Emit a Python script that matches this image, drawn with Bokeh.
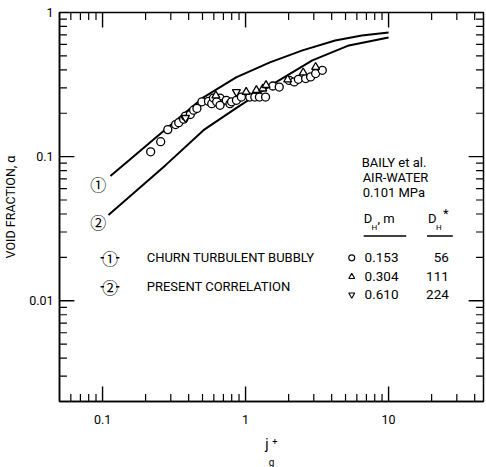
import math
from bokeh.plotting import figure
from bokeh.models import Range1d, Label, CustomJSTickFormatter, Title
from bokeh.embed import file_html
from bokeh.resources import INLINE

# ---------------- data ----------------
churn_x = [0.1135, 0.154, 0.256, 0.508, 0.859, 1.48, 2.50, 4.23, 6.50, 10.0]
churn_y = [0.0733, 0.0946, 0.1455, 0.258, 0.355, 0.451, 0.546, 0.640, 0.693, 0.727]
present_x = [0.110, 0.276, 0.508, 0.859, 1.55, 2.93, 5.28, 10.0]
present_y = [0.0394, 0.0873, 0.1526, 0.217, 0.318, 0.465, 0.591, 0.671]

d153_x = [0.217, 0.255, 0.286, 0.324, 0.341, 0.369, 0.379, 0.411, 0.433, 0.457,
          0.495, 0.550, 0.580, 0.596, 0.663, 0.663, 0.628, 0.663, 0.733, 0.778,
          0.798, 0.863, 0.935, 1.07, 1.16, 1.25, 1.38, 1.55, 1.72, 2.02,
          2.19, 2.34, 2.63, 2.85, 3.09, 3.44]
d153_y = [0.108, 0.127, 0.154, 0.167, 0.172, 0.182, 0.191, 0.196, 0.210, 0.216,
          0.240, 0.242, 0.233, 0.255, 0.255, 0.233, 0.240, 0.227, 0.246, 0.233,
          0.240, 0.246, 0.259, 0.259, 0.259, 0.259, 0.259, 0.309, 0.304, 0.338,
          0.330, 0.344, 0.348, 0.357, 0.377, 0.397]
d304_x = [0.62, 1.01, 1.19, 1.32, 1.39, 1.97, 2.53, 3.09]
d304_y = [0.265, 0.281, 0.289, 0.296, 0.313, 0.342, 0.383, 0.418]
d610_x = [0.38, 0.863]
d610_y = [0.186, 0.281]

legend_dh = ["0.153", "0.304", "0.610"]
legend_dstar = ["56", "111", "224"]
XMIN, XMAX = 0.05, 46.1
YMIN, YMAX = 0.002, 1.0

FONT = "Roboto"
CIRC = "Noto Sans CJK JP"

W, H = 486, 467
BL, BR, BT, BB = 55, 3, 12, 65

p = figure(width=W, height=H, x_axis_type="log", y_axis_type="log",
           x_range=Range1d(XMIN, XMAX), y_range=Range1d(YMIN, YMAX),
           output_backend="svg", toolbar_location=None,
           min_border_left=BL, min_border_right=BR, min_border_top=BT, min_border_bottom=BB)
p.grid.visible = False
p.outline_line_color = "black"
p.outline_line_width = 1.5
p.background_fill_color = "white"
p.border_fill_color = "white"

fmt = CustomJSTickFormatter(code="return String(Number(tick.toPrecision(3)));")

for ax in [p.below[0], p.left[0]]:
    ax.major_tick_in = 0
    ax.major_tick_out = 0
    ax.minor_tick_in = 0
    ax.minor_tick_out = 0
    ax.axis_line_width = 1.5
    ax.axis_line_color = "black"
    ax.major_label_text_font = FONT
    ax.major_label_text_font_size = "12.5px"
    ax.major_label_text_color = "black"
    ax.formatter = fmt

xb = p.below[0]
yl = p.left[0]
xb.major_label_standoff = 13
yl.major_label_standoff = 6
yl.axis_label = "VOID FRACTION, α"
yl.axis_label_text_font = FONT
yl.axis_label_text_font_size = "12.5px"
yl.axis_label_text_font_style = "normal"
yl.axis_label_text_color = "black"
yl.axis_label_standoff = 8

# x axis label j_g^+ : "j⁺" as the axis label, subscript "g" as a title row below it
xb.axis_label = "j ⁺"
xb.axis_label_text_font = FONT
xb.axis_label_text_font_size = "14px"
xb.axis_label_text_font_style = "normal"
xb.axis_label_text_color = "black"
xb.axis_label_standoff = 9
p.add_layout(Title(text="g", align="center", offset=-3, standoff=0,
                   text_font=FONT, text_font_size="10px", text_font_style="normal",
                   text_color="black"), "below")

# ---- inward tick marks on all four sides ----
px_per_dec_x = (W - BL - BR) / math.log10(XMAX / XMIN)
px_per_dec_y = (H - BT - BB) / math.log10(YMAX / YMIN)


def ticks(lo, hi):
    out = []
    for k in range(-4, 3):
        for m in range(1, 10):
            v = m * 10 ** k
            if lo * 1.0001 < v < hi * 0.9999:
                out.append((v, m == 1))
    return out


for v, major in ticks(XMIN, XMAX):
    L = 15 if major else 7.5
    f = 10 ** (L / px_per_dec_y)
    p.segment(x0=[v, v], y0=[YMIN, YMAX], x1=[v, v], y1=[YMIN * f, YMAX / f],
              line_color="black", line_width=1.4 if major else 1.2)
for v, major in ticks(YMIN, YMAX):
    L = 15 if major else 7.5
    f = 10 ** (L / px_per_dec_x)
    p.segment(x0=[XMIN, XMAX], y0=[v, v], x1=[XMIN * f, XMAX / f], y1=[v, v],
              line_color="black", line_width=1.4 if major else 1.2)

# curves
p.line(churn_x, churn_y, line_color="black", line_width=2)
p.line(present_x, present_y, line_color="black", line_width=2)

# data
p.scatter(d153_x, d153_y, marker="circle", size=8, fill_color="white",
          line_color="black", line_width=1.3)
p.scatter(d304_x, d304_y, marker="triangle", size=8, fill_color="white",
          line_color="black", line_width=1.3)
p.scatter(d610_x, d610_y, marker="inverted_triangle", size=8, fill_color="white",
          line_color="black", line_width=1.3)


def X(px):
    return XMIN * 10 ** ((px - BL) / px_per_dec_x)


def Y(py):
    return YMAX / 10 ** ((py - BT) / px_per_dec_y)


def lab(text, px, py, size="13px", font=FONT, align="left", baseline="middle"):
    p.add_layout(Label(x=X(px), y=Y(py), text=text, text_font=font,
                       text_font_size=size, text_align=align,
                       text_baseline=baseline, text_color="black"))


lab("①", 94, 184, size="16px", font=CIRC, align="center")
lab("②", 94, 222, size="16px", font=CIRC, align="center")

for row_y, sym, txt in [(258, "①", "CHURN TURBULENT BUBBLY"), (287, "②", "PRESENT CORRELATION")]:
    p.segment(x0=[X(96.5), X(112)], y0=[Y(row_y)] * 2, x1=[X(100), X(115.5)], y1=[Y(row_y)] * 2,
              line_color="black", line_width=1.5)
    lab(sym, 106, row_y, size="16px", font=CIRC, align="center")
    lab(txt, 143, row_y)

lab("BAILY et al.", 360, 162)
lab("AIR-WATER", 361, 177)
lab("0.101 MPa", 361, 192)
lab("D", 362, 219)
lab("H", 370, 228, size="8px")
lab(", m", 376, 219)
lab("D", 427, 219)
lab("H", 435, 228, size="8px")
lab("*", 442, 214)
p.segment(x0=[X(362), X(426)], y0=[Y(236)] * 2, x1=[X(405), X(452)], y1=[Y(236)] * 2,
          line_color="black", line_width=1.5)

rows_y = [258, 277, 295]
markers = ["circle", "triangle", "inverted_triangle"]
for ry, mk, dh, ds in zip(rows_y, markers, legend_dh, legend_dstar):
    p.scatter([X(350)], [Y(ry)], marker=mk, size=6, fill_color="white",
              line_color="black", line_width=1.1)
    lab(dh, 363, ry, size="13.5px")
    lab(ds, 448, ry, size="13.5px", align="right")

open("out.html", "w").write(file_html(p, INLINE))
